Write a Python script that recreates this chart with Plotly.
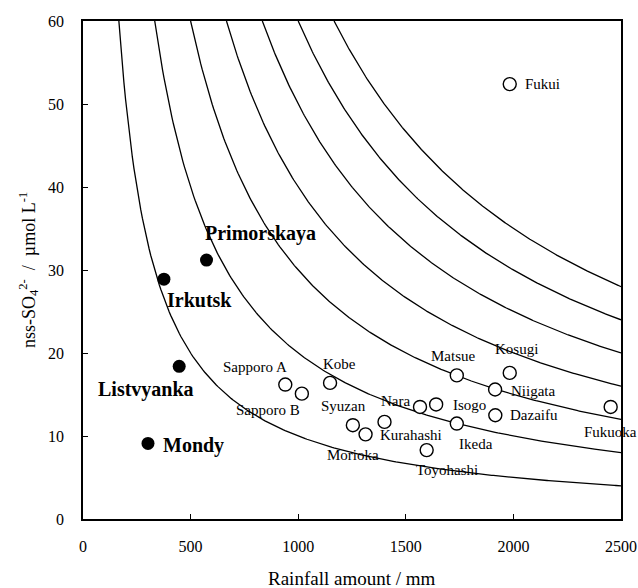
import numpy as np
import plotly.graph_objects as go

# Siberian monitoring sites (filled markers)
siberia_sites = ["Primorskaya", "Irkutsk", "Listvyanka", "Mondy"]
siberia_rain = [574, 376, 447, 302]
siberia_so4 = [31.2, 28.9, 18.4, 9.1]

# Japanese monitoring sites (open markers)
japan_sites = ["Fukui", "Sapporo A", "Sapporo B", "Kobe", "Syuzan", "Morioka",
               "Kurahashi", "Nara", "Isogo", "Toyohashi", "Matsue", "Ikeda",
               "Niigata", "Dazaifu", "Kosugi", "Fukuoka"]
japan_rain = [1983, 940, 1017, 1148, 1254, 1313, 1401, 1566, 1641, 1597,
              1737, 1737, 1915, 1916, 1983, 2452]
japan_so4 = [52.4, 16.2, 15.1, 16.4, 11.3, 10.2, 11.7, 13.5, 13.8, 8.3,
             17.3, 11.5, 15.6, 12.5, 17.6, 13.5]

# Iso-deposition lines: concentration (umol/L) x rainfall (mm) = constant
deposition_levels = [10000, 20000, 30000, 40000, 50000, 60000, 70000]

x_ticks = [0, 500, 1000, 1500, 2000, 2500]
y_ticks = [0, 10, 20, 30, 40, 50, 60]

# label placement (pixel offsets from each marker)
label_shift = {
    "Primorskaya": (54, 27), "Irkutsk": (36, -21), "Listvyanka": (-33, -23),
    "Mondy": (46, -2),
    "Fukui": (33, 0), "Sapporo A": (-30, 18), "Sapporo B": (-34, -16),
    "Kobe": (9, 19), "Syuzan": (-9, 19), "Morioka": (-13, -21),
    "Kurahashi": (26, -13), "Nara": (-25, 6), "Isogo": (33, -1),
    "Toyohashi": (20, -20), "Matsue": (-3, 19), "Ikeda": (19, -20),
    "Niigata": (38, -1), "Dazaifu": (39, 0), "Kosugi": (7, 24),
    "Fukuoka": (0, -25),
}

SERIF = "Liberation Serif, Times New Roman, serif"

fig = go.Figure()

x_max = x_ticks[-1]
y_max = y_ticks[-1]
for d in deposition_levels:
    xs = np.linspace(d / y_max, x_max, 300)
    fig.add_trace(go.Scatter(x=xs, y=d / xs, mode="lines",
                             line=dict(color="black", width=1.3),
                             hoverinfo="skip", showlegend=False))

fig.add_trace(go.Scatter(x=japan_rain, y=japan_so4, mode="markers",
                         marker=dict(size=13, color="white",
                                     line=dict(color="black", width=1.4)),
                         text=japan_sites, showlegend=False))
fig.add_trace(go.Scatter(x=siberia_rain, y=siberia_so4, mode="markers",
                         marker=dict(size=13, color="black",
                                     line=dict(color="black", width=0)),
                         text=siberia_sites, showlegend=False))

annotations = []
for name, x, y in zip(japan_sites, japan_rain, japan_so4):
    dx, dy = label_shift[name]
    annotations.append(dict(x=x, y=y, xref="x", yref="y", text=name,
                            showarrow=False, xshift=dx, yshift=dy,
                            xanchor="center", yanchor="middle",
                            font=dict(family=SERIF, size=15, color="black")))
for name, x, y in zip(siberia_sites, siberia_rain, siberia_so4):
    dx, dy = label_shift[name]
    annotations.append(dict(x=x, y=y, xref="x", yref="y",
                            text="<b>" + name + "</b>",
                            showarrow=False, xshift=dx, yshift=dy,
                            xanchor="center", yanchor="middle",
                            font=dict(family=SERIF, size=20, color="black")))

# axis titles
annotations.append(dict(x=0.5, y=0, xref="paper", yref="paper",
                        text="Rainfall amount / mm", showarrow=False,
                        xanchor="center", yanchor="middle", yshift=-59,
                        font=dict(family=SERIF, size=19, color="black")))
annotations.append(dict(x=0, y=0.5, xref="paper", yref="paper",
                        text="nss-SO<sub>4</sub><sup>2-</sup>\u00a0\u00a0/\u00a0\u00a0\u00b5mol L<sup>-1</sup>",
                        showarrow=False, textangle=-90,
                        xanchor="center", yanchor="middle", xshift=-55,
                        font=dict(family=SERIF, size=18, color="black")))

axis_common = dict(showgrid=False, zeroline=False, showline=True,
                   linecolor="black", linewidth=1.5, mirror=True,
                   ticks="inside", ticklen=5, tickwidth=1, tickcolor="black",
                   automargin=False,
                   tickfont=dict(family=SERIF, size=16, color="black"))

fig.update_xaxes(range=[x_ticks[0], x_ticks[-1]], tickvals=x_ticks,
                 ticklabelstandoff=12, **axis_common)
fig.update_yaxes(range=[y_ticks[0], y_ticks[-1]], tickvals=y_ticks,
                 ticklabelstandoff=14, **axis_common)

fig.update_layout(width=638, height=588,
                  margin=dict(l=83, r=17, t=21, b=69, autoexpand=False),
                  paper_bgcolor="white", plot_bgcolor="white",
                  annotations=annotations, showlegend=False)

fig.write_html("out.html")
